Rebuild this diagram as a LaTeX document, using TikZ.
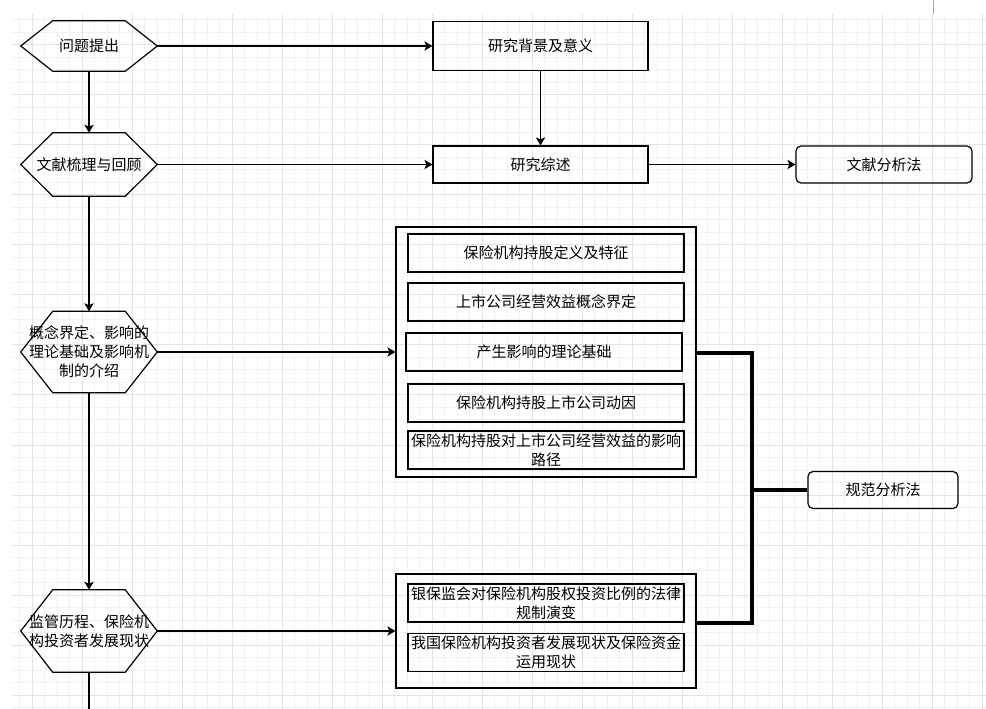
\documentclass[tikz,border=0pt]{standalone}
\usepackage{fontspec}
\setmainfont{Noto Sans CJK SC}
\usetikzlibrary{arrows.meta,calc}
\tikzset{
  every node/.style={font=\fontsize{11.25pt}{14.25pt}\selectfont, align=center, inner sep=0pt},
  hexnode/.style={minimum width=102pt, minimum height=#1},
  hexline/.style={line width=0.9pt},
  stagebox/.style={draw, line width=0.9pt, minimum width=161.25pt, minimum height=#1},
  methodbox/.style={draw, line width=0.9pt, rounded corners=3.75pt, minimum height=27.75pt, minimum width=#1},
  groupbox/.style={draw, line width=0.9pt, minimum width=225pt, minimum height=#1},
  itembox/.style={draw, line width=1.1pt, minimum width=207pt, minimum height=28.5pt},
  flow/.style={line width=0.9pt, -{Stealth[length=6pt,width=7pt,inset=1.5pt]}},
  brace/.style={line width=2.6pt},
  gridminor/.style={line width=0.75pt, color=black!5},
  gridmajor/.style={line width=0.75pt, color=black!11},
}
\begin{document}
\begin{tikzpicture}[x=0.75pt, y=-0.75pt]
  \useasboundingbox (0,0) rectangle (986,709);
  % background grid
  \foreach \i in {0,...,77}
    \draw[gridminor] (19.5+12.5*\i,14) -- (19.5+12.5*\i,709);
  \foreach \j in {0,...,55}
    \draw[gridminor] (12,20+12.5*\j) -- (986,20+12.5*\j);
  \foreach \i in {0,...,19}
    \draw[gridmajor] (32+50*\i,14) -- (32+50*\i,709);
  \foreach \j in {0,...,13}
    \draw[gridmajor] (12,45+50*\j) -- (986,45+50*\j);
  \draw[black!35, line width=0.75pt] (933,0) -- (933,14);

  % stages on the left
  \node[hexnode=37.5pt] (h1) at (89,46) {问题提出};
  \node[hexnode=47.25pt] (h2) at (89,164.5) {文献梳理与回顾};
  \node[hexnode=60.75pt] (h3) at (89,352) {概念界定、影响的\\理论基础及影响机\\制的介绍};
  \node[hexnode=61.5pt] (h4) at (89,631) {监管历程、保险机\\构投资者发展现状};
  \foreach \h in {h1,h2,h3,h4}
    \draw[hexline] (\h.west) -- ($(\h.north west)+(32,0)$) -- ($(\h.north east)+(-32,0)$)
      -- (\h.east) -- ($(\h.south east)+(-32,0)$) -- ($(\h.south west)+(32,0)$) -- cycle;
  \coordinate (tail) at (89,709);

  % contents
  \node[stagebox=36.75pt] (b1) at (540.5,46) {研究背景及意义};
  \node[stagebox=27.75pt] (b2) at (540.5,164.5) {研究综述};
  \node[methodbox=132pt] (m1) at (884,164.5) {文献分析法};

  \node[groupbox=187.5pt] (c1) at (546,352) {};
  \node[itembox] (i1) at (546,253) {保险机构持股定义及特征};
  \node[itembox] (i2) at (546,302) {上市公司经营效益概念界定};
  \node[itembox] (i3) at (544,352) {产生影响的理论基础};
  \node[itembox] (i4) at (546,403) {保险机构持股上市公司动因};
  \node[itembox] (i5) at (546,450) {保险机构持股对上市公司经营效益的影响\\路径};

  \node[groupbox=85.5pt] (c2) at (546,631) {};
  \node[itembox] (j1) at (546,603) {银保监会对保险机构股权投资比例的法律\\规制演变};
  \node[itembox] (j2) at (546,652.5) {我国保险机构投资者发展现状及保险资金\\运用现状};

  \node[methodbox=112.5pt] (m2) at (883,490) {规范分析法};

  % connectors
  \draw[flow] (h1) -- (b1);
  \draw[flow] (h1) -- (h2);
  \draw[flow] (b1) -- (b2);
  \draw[flow] (h2) -- (b2);
  \draw[flow] (b2) -- (m1);
  \draw[flow] (h2) -- (h3);
  \draw[flow] (h3) -- (c1);
  \draw[flow] (h3) -- (h4);
  \draw[flow] (h4) -- (c2);
  \draw[line width=0.9pt] (h4.south) -- (tail);

  \coordinate (fk1) at (752,353);
  \coordinate (fk2) at (752,623);
  \draw[brace] (c1.east |- fk1) -- (fk1) -- (fk2) -- (c2.east |- fk2);
  \draw[brace] (m2.west) -- (m2.west -| fk1);
\end{tikzpicture}
\end{document}
